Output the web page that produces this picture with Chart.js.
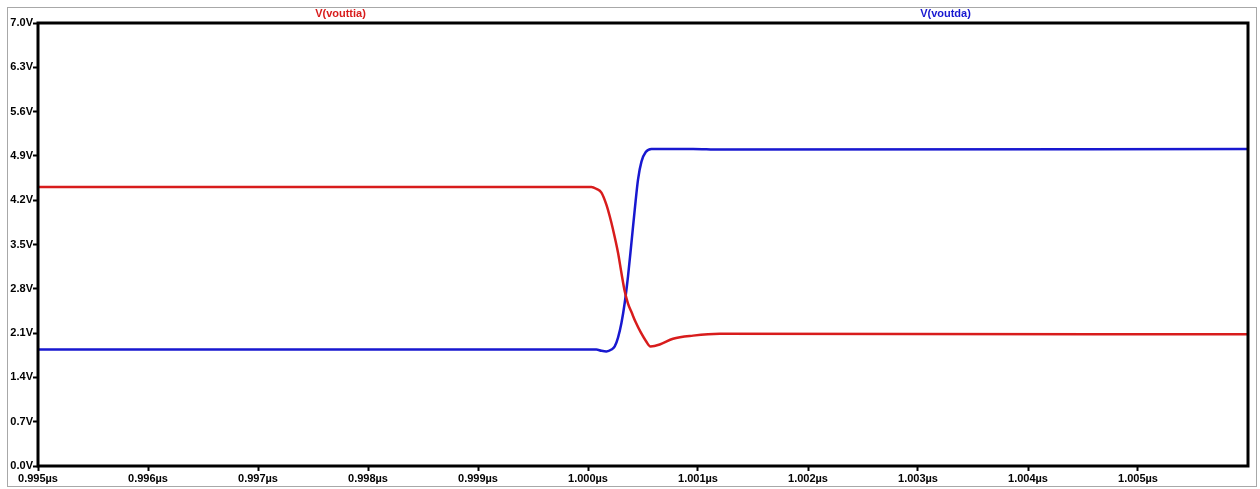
<!DOCTYPE html>
<html>
<head>
<meta charset="utf-8">
<script src="https://cdn.jsdelivr.net/npm/chart.js@4"></script>
<style>
  body { margin: 0; background: #fff; }
  canvas { display: block; }
</style>
</head>
<body>
<canvas id="waveChart" width="1260" height="489"></canvas>
<script>
// Data (time in µs, voltage in V)
const xTicks = [0.995, 0.996, 0.997, 0.998, 0.999, 1.000, 1.001, 1.002, 1.003, 1.004, 1.005];
const yTicks = [0.0, 0.7, 1.4, 2.1, 2.8, 3.5, 4.2, 4.9, 5.6, 6.3, 7.0];

const redTime = [0.995, 1.000031, 1.000076, 1.000122, 1.000167, 1.000197, 1.000227, 1.000273, 1.000304, 1.000334, 1.000363, 1.000398, 1.000434, 1.000480, 1.000525, 1.000568, 1.000652, 1.000773, 1.000955, 1.001198, 1.006];
const redVolts = [4.41, 4.41, 4.38, 4.32, 4.13, 3.95, 3.74, 3.37, 3.05, 2.76, 2.57, 2.42, 2.27, 2.11, 1.98, 1.89, 1.92, 2.01, 2.06, 2.09, 2.08];

const blueTime = [0.995, 1.000076, 1.000122, 1.000167, 1.000213, 1.000243, 1.000273, 1.000304, 1.000334, 1.000364, 1.000395, 1.000425, 1.000455, 1.000486, 1.000525, 1.000577, 1.000955, 1.001198, 1.006];
const blueVolts = [1.84, 1.84, 1.82, 1.81, 1.84, 1.89, 2.03, 2.26, 2.58, 3.00, 3.53, 4.05, 4.53, 4.81, 4.96, 5.01, 5.01, 5.00, 5.01];

const toPoints = (xs, ys) => xs.map((x, i) => ({ x: x, y: ys[i] }));

const labelFont = { family: "'Liberation Sans', Arial, sans-serif", size: 11, weight: 'bold' };

// frame, plot border and trace names like the simulator window
const framePlugin = {
    id: 'frame',
    beforeDraw(chart) {
        const c = chart.ctx;
        c.save();
        c.fillStyle = '#fff';
        c.fillRect(0, 0, chart.width, chart.height);
        c.strokeStyle = '#a8a8a8';
        c.lineWidth = 1;
        c.strokeRect(7.5, 7.5, 1249, 479);
        c.restore();
    },
    afterDraw(chart) {
        const a = chart.chartArea;
        const c = chart.ctx;
        c.save();
        c.strokeStyle = '#000';
        c.lineWidth = 3;
        c.strokeRect(a.left, a.top, a.right - a.left, a.bottom - a.top);
        // trace names across the top
        const n = chart.data.datasets.length;
        c.font = 'bold 11px "Liberation Sans", Arial, sans-serif';
        c.textAlign = 'center';
        c.textBaseline = 'middle';
        chart.data.datasets.forEach((ds, i) => {
            c.fillStyle = ds.borderColor;
            c.fillText(ds.label, a.left + (a.right - a.left) * (i + 0.5) / n, 14);
        });
        c.restore();
    }
};

const ctx = document.getElementById('waveChart').getContext('2d');
const waveChart = new Chart(ctx, {
    type: 'line',
    data: {
        datasets: [
            {
                label: 'V(vouttia)',
                data: toPoints(redTime, redVolts),
                borderColor: '#d81c1c',
                borderWidth: 2.5,
                pointRadius: 0,
                cubicInterpolationMode: 'monotone'
            },
            {
                label: 'V(voutda)',
                data: toPoints(blueTime, blueVolts),
                borderColor: '#1818d0',
                borderWidth: 2.5,
                pointRadius: 0,
                cubicInterpolationMode: 'monotone'
            }
        ]
    },
    options: {
        responsive: false,
        animation: false,
        layout: { padding: { top: 23, right: 12, left: 0, bottom: 0 } },
        plugins: {
            legend: { display: false },
            tooltip: { enabled: false }
        },
        scales: {
            x: {
                type: 'linear',
                min: 0.995,
                max: 1.006,
                afterBuildTicks: (scale) => { scale.ticks = xTicks.map(v => ({ value: v })); },
                afterFit: (scale) => { scale.height = 23; },
                grid: { drawOnChartArea: false, tickLength: 5, tickWidth: 2, tickColor: '#000' },
                border: { display: false },
                ticks: {
                    autoSkip: false,
                    maxRotation: 0,
                    padding: 1,
                    color: '#000',
                    font: labelFont,
                    callback: (v) => v.toFixed(3) + 'µs'
                }
            },
            y: {
                min: 0,
                max: 7,
                afterBuildTicks: (scale) => { scale.ticks = yTicks.map(v => ({ value: v })); },
                afterFit: (scale) => { scale.width = 38; },
                grid: { drawOnChartArea: false, tickLength: 5, tickWidth: 2, tickColor: '#000' },
                border: { display: false },
                ticks: {
                    padding: 0,
                    color: '#000',
                    font: labelFont,
                    callback: (v) => v.toFixed(1) + 'V'
                }
            }
        }
    },
    plugins: [framePlugin]
});
</script>
</body>
</html>
